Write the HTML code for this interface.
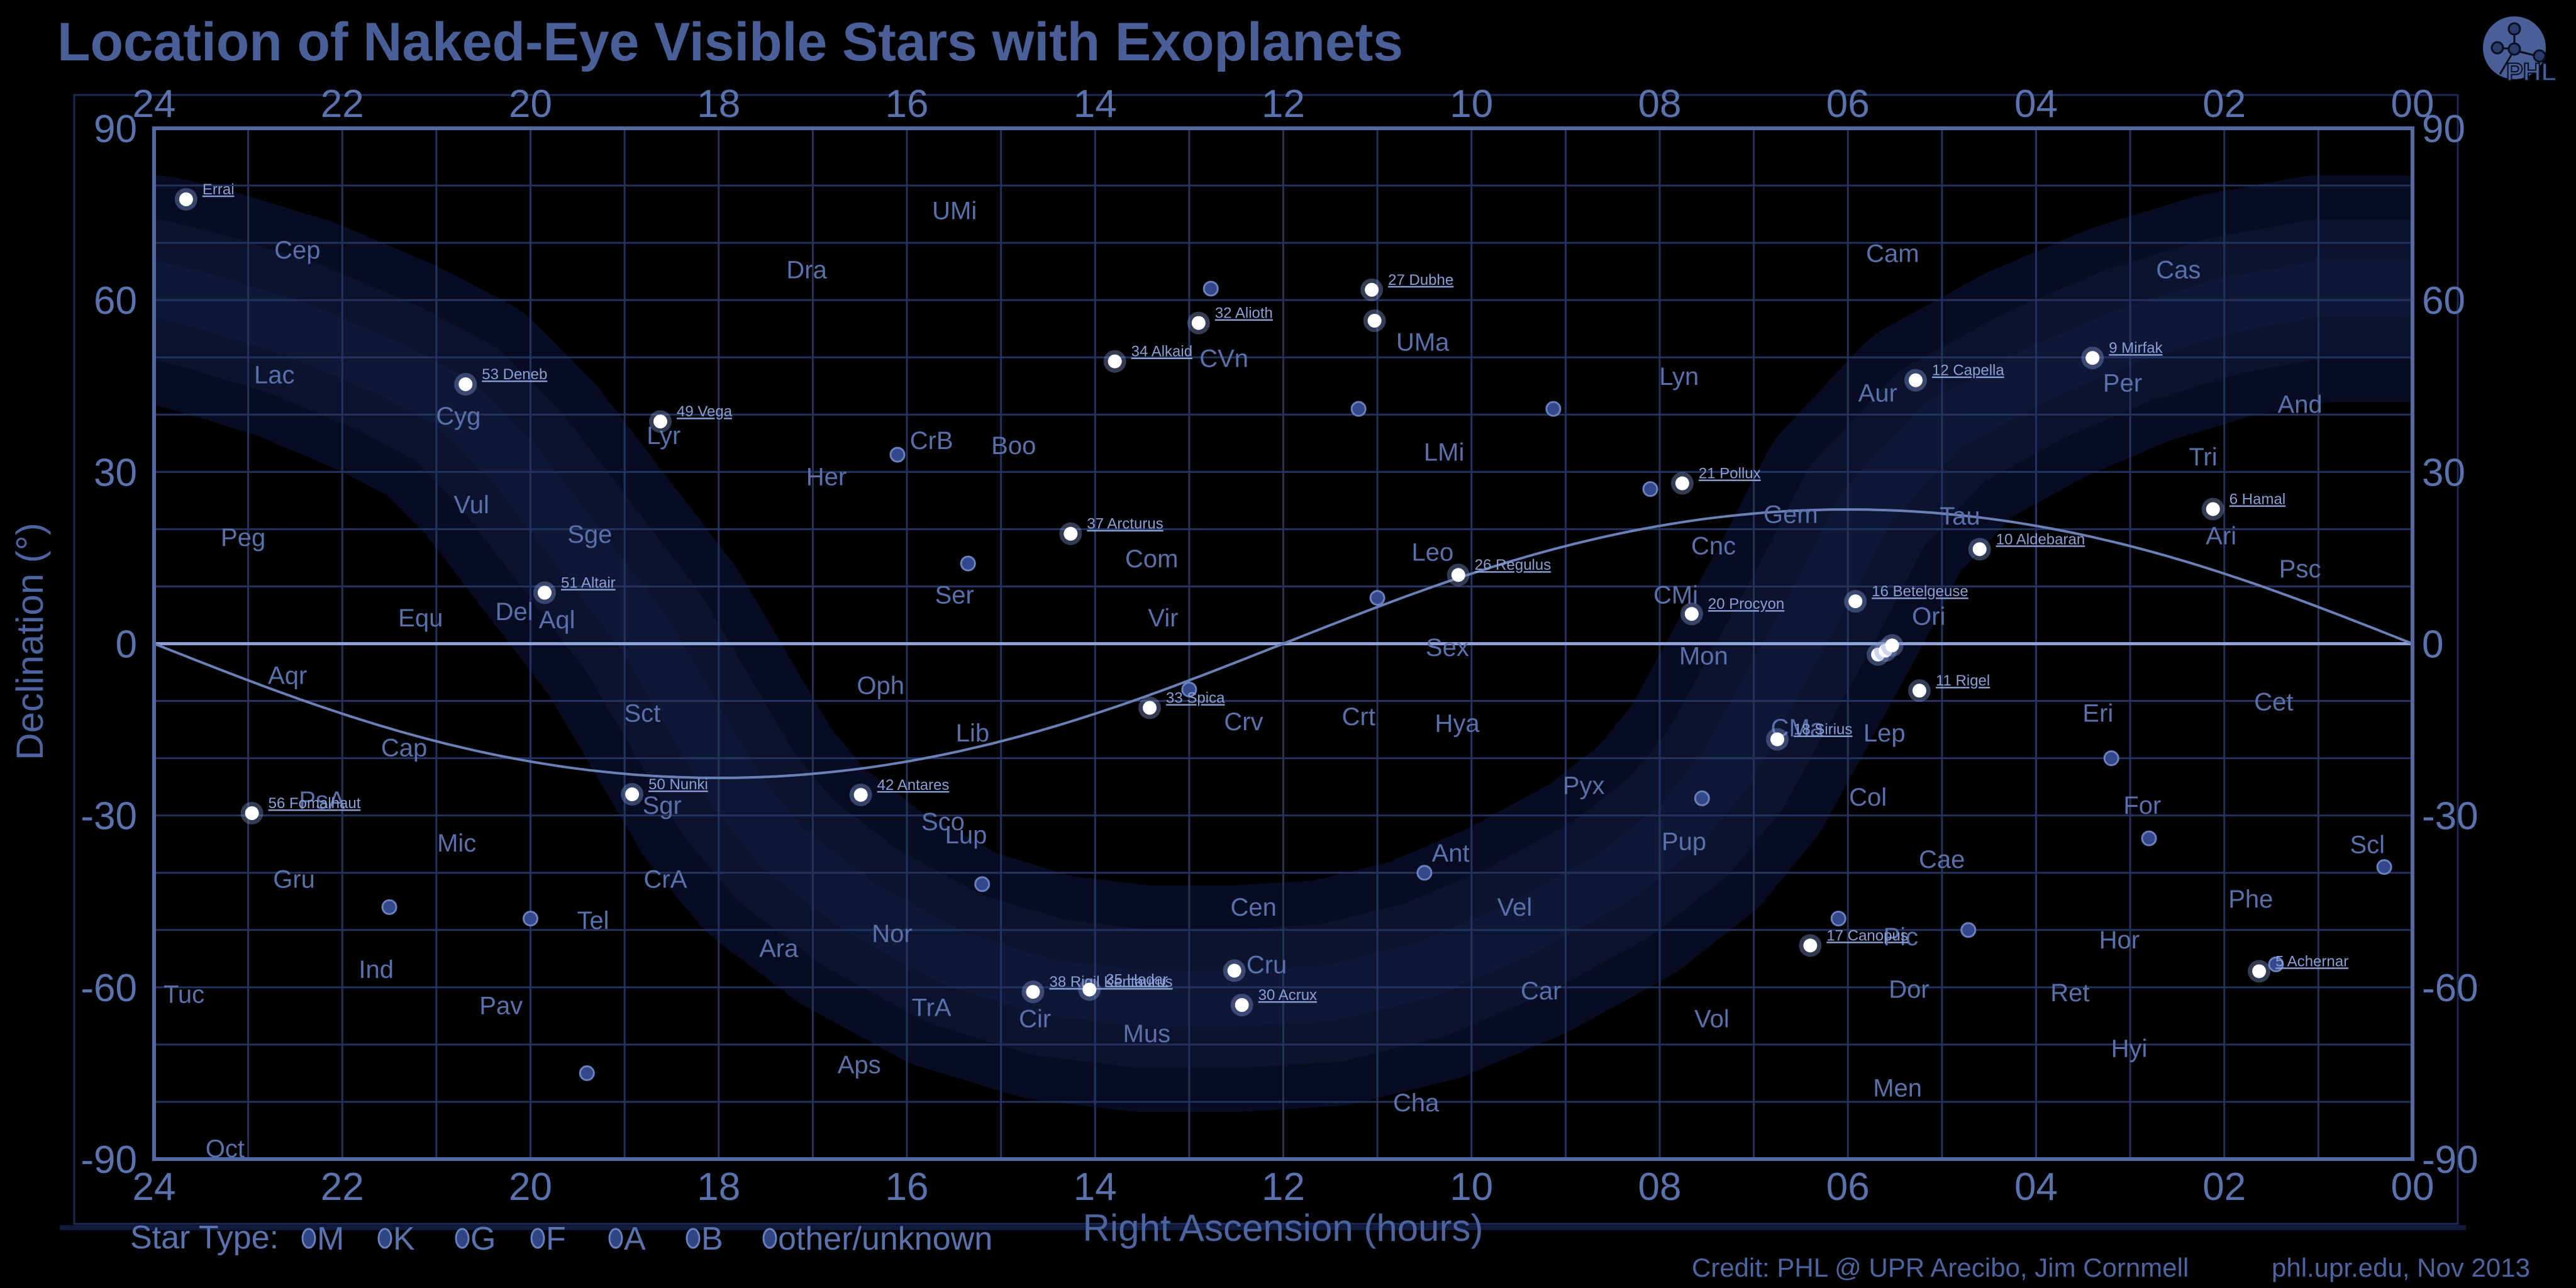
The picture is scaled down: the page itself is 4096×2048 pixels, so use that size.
<!DOCTYPE html>
<html><head><meta charset="utf-8">
<style>
html,body{margin:0;padding:0;background:#000;}
svg{display:block;}
text{font-family:"Liberation Sans",sans-serif;}
</style></head>
<body>
<svg id="chart" xmlns="http://www.w3.org/2000/svg" width="4096" height="2048" viewBox="0 0 4096 2048">
<rect x="0" y="0" width="4096" height="2048" fill="#000"/>
<text x="91" y="96" font-size="86" font-weight="bold" fill="#4a5f98" textLength="2140">Location of Naked-Eye Visible Stars with Exoplanets</text>
<g>
<circle cx="3998" cy="76" r="50" fill="#4a5f98"/>
<circle cx="3998" cy="46" r="9" fill="#2a3a6a" stroke="#0a0f20" stroke-width="3"/>
<circle cx="3971" cy="76" r="9" fill="#2a3a6a" stroke="#0a0f20" stroke-width="3"/>
<circle cx="3998" cy="78" r="9" fill="#2a3a6a" stroke="#0a0f20" stroke-width="3"/>
<circle cx="4038" cy="89" r="9" fill="#2a3a6a" stroke="#0a0f20" stroke-width="3"/>
<path d="M3998 55 V69 M3980 77 H3989 M4006 82 L4030 88 M3994 86 L3975 118" stroke="#0a0f20" stroke-width="3" fill="none"/>
<text x="3985" y="128" font-size="40" font-weight="bold" fill="#4a5f98" stroke="#0a0f20" stroke-width="2">PHL</text>
</g>
<rect x="118" y="151" width="3790" height="1795" fill="none" stroke="#1c2a55" stroke-width="3"/>
<rect x="95" y="1948" width="3826" height="8" fill="#0f1a3c"/>
<g id="plot"></g>
<g id="axes"></g>
<text transform="translate(68,1020) rotate(-90)" text-anchor="middle" font-size="60" fill="#4d64a0">Declination (°)</text>
<text x="2040" y="1973" text-anchor="middle" font-size="60" fill="#4d64a0">Right Ascension (hours)</text>
<g id="legend"></g>
<text x="2690" y="2030" font-size="42" fill="#4d64a0">Credit: PHL @ UPR Arecibo, Jim Cornmell</text>
<text x="3612" y="2030" font-size="42" fill="#4d64a0">phl.upr.edu, Nov 2013</text>
</svg>
<script>
// ---- data ----
const raTicks = [24,22,20,18,16,14,12,10,8,6,4,2,0];
const raTickLabels = ["24","22","20","18","16","14","12","10","08","06","04","02","00"];
const decTicks = [90,60,30,0,-30,-60,-90];
const decTickLabels = ["90","60","30","0","-30","-60","-90"];
// Milky Way centre line (RA hours, Dec degrees)
const mwRA  = [24,23.5,22.5,21.5,20.8,20.2,19.5,18.8,18.3,17.8,17.3,16.5,15.5,14.5,13.5,12.5,11.5,10.5,9.5,8.5,7.8,7.3,6.8,6.3,5.8,5.0,4.0,3.0,2.0,1.0,0];
const mwDec = [62,60,55,48,42,32,17,2,-12,-26,-36,-46,-55,-60,-62,-62,-61,-57,-50,-41,-32,-22,-7,8,24,38,47,54,59,62,62];
// exoplanet host stars
const starNames = ["Errai","53 Deneb","49 Vega","51 Altair","56 Fomalhaut","50 Nunki","42 Antares","37 Arcturus","33 Spica","38 Rigil Kentaurus","35 Hadar","30 Acrux","34 Alkaid","32 Alioth","27 Dubhe","Merak","26 Regulus","21 Pollux","20 Procyon","16 Betelgeuse","18 Sirius","17 Canopus","11 Rigel","10 Aldebaran","12 Capella","9 Mirfak","6 Hamal","5 Achernar","Alnitak","Alnilam","Mintaka","Gacrux"];
const starRA  = [23.66,20.69,18.62,19.85,22.96,18.92,16.49,14.26,13.42,14.66,14.06,12.44,13.79,12.90,11.06,11.03,10.14,7.76,7.66,5.92,6.75,6.40,5.24,4.60,5.28,3.40,2.12,1.63,5.68,5.60,5.53,12.52];
const starDec = [77.6,45.3,38.8,8.9,-29.6,-26.3,-26.4,19.2,-11.2,-60.8,-60.4,-63.1,49.3,56.0,61.8,56.4,12.0,28.0,5.2,7.4,-16.7,-52.7,-8.2,16.5,46.0,49.9,23.5,-57.2,-1.9,-1.2,-0.3,-57.1];
const starLabeled = [1,1,1,1,1,1,1,1,1,1,1,1,1,1,1,0,1,1,1,1,1,1,1,1,1,1,1,1,0,0,0,0];
// other catalogued exoplanet stars (dim circles)
const hdRA  = [11.2,12.77,15.35,9.13,7.55,4.72,1.45,2.8,0.3,3.2,10.5,19.4,15.2,13.0,11.0,8.1,6.1,20.0,21.5,16.1];
const hdDec = [41,62,14,41,-27,-50,-56,-34,-39,-20,-40,-75,-42,-8,8,27,-48,-48,-46,33];
// constellation abbreviations, layout in display units (x,y of reference preview)
const conNames = ["Cep","Lac","Cyg","Vul","Sge","Del","Equ","Aql","Peg","Aqr","Cap","PsA","Mic","Gru","Tel","Ind","Tuc","Pav","Oct","CrA","Sgr","Sct","Oph","Ser","Her","Lyr","Dra","UMi","Boo","CrB","Com","Vir","Lib","Sco","Lup","Nor","Ara","TrA","Cir","Aps","Mus","Cha","Cru","Cen","Crv","Crt","Hya","Ant","Vel","Car","Vol","Pyx","Pup","CMa","Mon","CMi","Cnc","Leo","LMi","Lyn","UMa","CVn","Cam","Aur","Gem","Ori","Tau","Lep","Col","Cae","Pic","Dor","Men","Hor","Ret","Hyi","Eri","For","Cet","Phe","Scl","Psc","Ari","Tri","And","Per","Cas","Sex"];
const conX = [181,167,279,287,359,313,256,339,148,175,246,196,278,179,361,229,112,305,137,405,403,391,536,581,503,404,491,581,617,567,701,708,592,574,588,543,474,567,630,523,698,862,771,763,757,827,887,883,922,938,1042,964,1025,1094,1037,1020,1043,872,879,1022,866,745,1152,1143,1090,1174,1193,1147,1137,1182,1157,1162,1155,1290,1260,1296,1277,1304,1384,1370,1441,1400,1352,1341,1400,1292,1326,881];
const conY = [152,228,253,307,325,372,376,377,327,411,455,487,513,535,560,590,605,612,699,535,490,434,417,362,290,265,164,128,271,268,340,376,446,500,508,568,577,613,620,648,629,671,587,552,439,436,440,519,552,603,620,478,512,443,399,362,332,336,275,229,208,218,154,239,313,375,314,446,485,523,570,602,662,572,604,638,434,490,427,547,514,346,326,278,246,233,164,394];

// ---- scales ----
const L=245, R=3836, T=204, B=1843;
const xS = ra => L + (24-ra)*(R-L)/24;
const yS = dec => (T+B)/2 - dec*(B-T)/180;
const K = 4096/1568;
const NS="http://www.w3.org/2000/svg";
function mk(tag, attrs, parent){const e=document.createElementNS(NS,tag);for(const k in attrs)e.setAttribute(k,attrs[k]);parent.appendChild(e);return e;}
const plot=document.getElementById('plot'), axes=document.getElementById('axes');

let pb=mk('rect',{x:L,y:T,width:R-L,height:B-T,fill:'#000'},plot);



const defs=mk('defs',{},plot);
const cp=mk('clipPath',{id:'pc'},defs);
mk('rect',{x:L,y:T,width:R-L,height:B-T},cp);
const inner=mk('g',{'clip-path':'url(#pc)'},plot);

// milky way
let mwPts = mwRA.map((r,i)=>xS(r).toFixed(1)+','+yS(mwDec[i]).toFixed(1)).join(' ');
let mw1=mk('polyline',{points:mwPts,fill:'none',stroke:'#070c22',"stroke-width":360,"stroke-linejoin":'round',"stroke-linecap":'round'},inner);


let mw2=mk('polyline',{points:mwPts,fill:'none',stroke:'#0b132e',"stroke-width":220,"stroke-linejoin":'round',"stroke-linecap":'round'},inner);


let mw3=mk('polyline',{points:mwPts,fill:'none',stroke:'#111a3c',"stroke-width":90,"stroke-linejoin":'round',"stroke-linecap":'round',opacity:0.7},inner);



// grid
for(let h=0;h<=24;h++){
  const g=mk('line',{x1:xS(h),x2:xS(h),y1:T,y2:B,stroke:'#24325e',"stroke-width":3},inner);
  
  
}
for(let d=-80;d<=80;d+=10){
  const g=mk('line',{x1:L,x2:R,y1:yS(d),y2:yS(d),stroke:d===0?'#8ea2d8':'#24325e',"stroke-width":d===0?5:3},inner);
  
  
}
// ecliptic
let ec=[];
for(let h=0;h<=24.001;h+=0.1){const a=h*15*Math.PI/180;const d=Math.atan(Math.tan(23.44*Math.PI/180)*Math.sin(a))*180/Math.PI;ec.push(xS(h).toFixed(1)+','+yS(d).toFixed(1));}
let ecl=mk('polyline',{points:ec.join(' '),fill:'none',stroke:'#6c80b8',"stroke-width":4},inner);



// constellation labels
conNames.forEach((n,i)=>{
  const t=mk('text',{x:conX[i]*K,y:conY[i]*K+14,'text-anchor':'middle','font-size':40,fill:'#5a70aa'},inner);
  t.textContent=n;
  
  
});

// HD stars
hdRA.forEach((r,i)=>{
  const c=mk('circle',{cx:xS(r),cy:yS(hdDec[i]),r:11,fill:'#33488a',stroke:'#6a80bf','stroke-width':3},inner);
  
  
});

// bright exoplanet stars
starNames.forEach((n,i)=>{
  const x=xS(starRA[i]), y=yS(starDec[i]);
  const glow=mk('circle',{cx:x,cy:y,r:18,fill:'#7f95d0',opacity:0.4},inner);
  
  
  const c=mk('circle',{cx:x,cy:y,r:11,fill:'#ffffff'},inner);
  
  
  if(starLabeled[i]){
    const t=mk('text',{x:x+26,y:y-8,'font-size':24,fill:'#8a9fd4','font-family':'Liberation Mono, monospace','text-decoration':'underline'},inner);
    t.textContent=n;
    
    
  }
});

let pbd=mk('rect',{x:L,y:T,width:R-L,height:B-T,fill:'none',stroke:'#5468a2','stroke-width':6},plot);



// axes labels
raTicks.forEach((h,i)=>{
  const top=mk('text',{x:xS(h),y:186,'text-anchor':'middle','font-size':62,fill:'#5a72ae'},axes);
  top.textContent=raTickLabels[i];
  
  
  const bot=mk('text',{x:xS(h),y:1908,'text-anchor':'middle','font-size':62,fill:'#5a72ae'},axes);
  bot.textContent=raTickLabels[i];
  
  
});
decTicks.forEach((d,i)=>{
  const l=mk('text',{x:218,y:yS(d)+22,'text-anchor':'end','font-size':62,fill:'#5a72ae'},axes);
  l.textContent=decTickLabels[i];
  
  
  const r=mk('text',{x:3851,y:yS(d)+22,'text-anchor':'start','font-size':62,fill:'#5a72ae'},axes);
  r.textContent=decTickLabels[i];
  
  
});

// legend
const legTypes=["M","K","G","F","A","B","other/unknown"];
const leg=document.getElementById('legend');
let lt=mk('text',{x:207,y:1985,'font-size':52,fill:'#5a72ae'},leg);
lt.textContent="Star Type:";


const legX=[491,612,735,855,979,1102,1224];
legTypes.forEach((s,i)=>{
  const c=mk('ellipse',{cx:legX[i],cy:1969,rx:10,ry:15,fill:'#2f4584',stroke:'#6a80bf','stroke-width':3},leg);
  
  
  const t=mk('text',{x:legX[i]+13,y:1987,'font-size':52,fill:'#5a72ae'},leg);
  t.textContent=s;
  
  
});
</script>
</body></html>
